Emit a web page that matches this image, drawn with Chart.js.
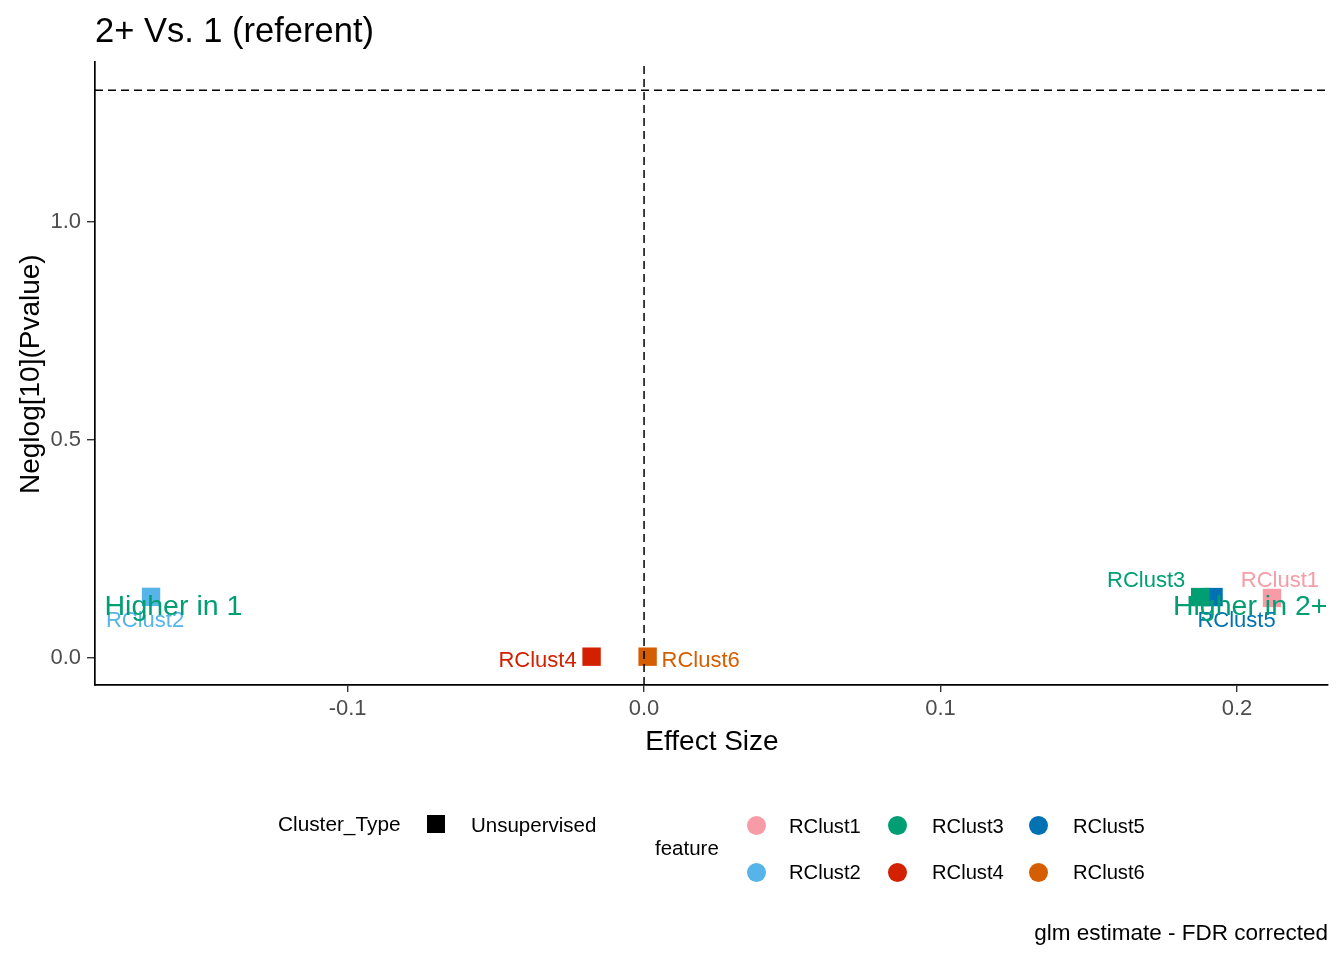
<!DOCTYPE html>
<html>
<head>
<meta charset="utf-8">
<title>2+ Vs. 1 (referent)</title>
<script src="https://cdn.jsdelivr.net/npm/chart.js@4.4.1/dist/chart.umd.min.js"></script>
<style>
  html, body { margin: 0; padding: 0; background: #fff; }
  #wrap {
    position: relative; width: 1344px; height: 960px; overflow: hidden;
    font-family: "Liberation Sans", Arial, sans-serif; color: #000;
  }
  #chart { position: absolute; left: 0; top: 0; }
  .txt { position: absolute; white-space: nowrap; line-height: 1; }
  .key { position: absolute; }
</style>
</head>
<body>
<div id="wrap"><canvas id="chart" width="1344" height="960"></canvas></div>
<script>
// ---- data ----
const features = ['RClust1', 'RClust2', 'RClust3', 'RClust4', 'RClust5', 'RClust6'];
const effectSize = [0.2118, -0.1663, 0.1876, -0.0177, 0.1921, 0.0012];
const neglogP = [0.138, 0.1404, 0.140, 0.0034, 0.140, 0.0034];
const featureColors = ['#F79CA6', '#56B4E9', '#009E73', '#D22000', '#0072B2', '#D55E00'];

const xTicks = [-0.1, 0.0, 0.1, 0.2];
const yTicks = [0.0, 0.5, 1.0];

// reference lines: no effect, and p = 0.05
const vLines = [0];
const hLines = [1.30103];

// side annotations
const noteTexts = ['Higher in 1', 'Higher in 2+'];
const noteX = [-0.182, 0.2305];
const noteY = [0.118, 0.118];

// ---- styling / layout constants ----
const FONT = '"Liberation Sans", Arial, sans-serif';
const noteAlign = ['left', 'right'];
const noteColor = '#009E73';
// label offsets from the point centre, px: [dx (text centre), dy (baseline)]
const labelOffsets = [[8, -11], [-6, 30], [-54, -10], [-54, 10], [23, 30], [53, 10]];

// ggplot-like 5% expansion around the data and reference lines
const xlo = Math.min(...effectSize, ...vLines), xhi = Math.max(...effectSize, ...vLines);
const ylo = Math.min(...neglogP, ...hLines), yhi = Math.max(...neglogP, ...hLines);
const xPad = (xhi - xlo) * 0.05, yPad = (yhi - ylo) * 0.05;

const overlayPlugin = {
  id: 'overlay',
  afterDatasetsDraw(chart) {
    const { ctx, chartArea: a, scales: { x, y } } = chart;
    ctx.save();
    // dashed reference lines
    ctx.strokeStyle = '#000';
    ctx.lineWidth = 1.5;
    ctx.setLineDash([8, 5]);
    vLines.forEach(v => {
      const px = x.getPixelForValue(v);
      ctx.beginPath(); ctx.moveTo(px, a.bottom); ctx.lineTo(px, a.top); ctx.stroke();
    });
    hLines.forEach(v => {
      const py = y.getPixelForValue(v);
      ctx.beginPath(); ctx.moveTo(a.left, py); ctx.lineTo(a.right, py); ctx.stroke();
    });
    ctx.setLineDash([]);

    // point labels
    ctx.font = '22px ' + FONT;
    ctx.textAlign = 'center';
    ctx.textBaseline = 'alphabetic';
    features.forEach((f, i) => {
      const px = x.getPixelForValue(effectSize[i]);
      const py = y.getPixelForValue(neglogP[i]);
      ctx.fillStyle = featureColors[i];
      ctx.fillText(f, px + labelOffsets[i][0], py + labelOffsets[i][1]);
    });

    // "Higher in ..." notes
    ctx.font = '28.5px ' + FONT;
    ctx.textBaseline = 'middle';
    ctx.fillStyle = noteColor;
    noteTexts.forEach((t, i) => {
      ctx.textAlign = noteAlign[i];
      ctx.fillText(t, x.getPixelForValue(noteX[i]), y.getPixelForValue(noteY[i]));
    });
    ctx.restore();
  }
};

new Chart(document.getElementById('chart'), {
  type: 'scatter',
  data: {
    datasets: features.map((f, i) => ({
      label: f,
      data: [{ x: effectSize[i], y: neglogP[i] }],
      backgroundColor: featureColors[i],
      borderWidth: 0,
      pointStyle: 'rect',
      pointRadius: 13,
      pointHoverRadius: 13
    }))
  },
  options: {
    responsive: false,
    animation: false,
    devicePixelRatio: 1,
    events: [],
    layout: { padding: { top: 62, right: 16, left: 0, bottom: 0 } },
    plugins: {
      legend: { display: false },
      title: { display: false },
      tooltip: { enabled: false }
    },
    scales: {
      x: {
        type: 'linear',
        min: xlo - xPad,
        max: xhi + xPad,
        afterFit(s) { s.height = 275; },
        afterBuildTicks(s) { s.ticks = xTicks.map(v => ({ value: v })); },
        ticks: {
          callback: v => v.toFixed(1),
          color: '#4D4D4D',
          font: { family: FONT, size: 22 },
          padding: 4,
          maxRotation: 0,
          autoSkip: false
        },
        grid: { drawOnChartArea: false, drawTicks: true, tickLength: 7, color: '#333333', lineWidth: 1.4 },
        border: { display: true, color: '#000', width: 1.7 }
      },
      y: {
        type: 'linear',
        min: ylo - yPad,
        max: yhi + yPad,
        afterFit(s) { s.width = 95; },
        afterBuildTicks(s) { s.ticks = yTicks.map(v => ({ value: v })); },
        ticks: {
          callback: v => v.toFixed(1),
          color: '#4D4D4D',
          font: { family: FONT, size: 22 },
          padding: 6,
          autoSkip: false
        },
        grid: { drawOnChartArea: false, drawTicks: true, tickLength: 8, color: '#333333', lineWidth: 1.4 },
        border: { display: true, color: '#000', width: 1.7 }
      }
    }
  },
  plugins: [overlayPlugin]
});

// ---- titles, legend and caption as HTML text ----
const wrap = document.getElementById('wrap');
function addText(str, x, baseline, size, align = 'left') {
  const el = document.createElement('div');
  el.className = 'txt';
  el.textContent = str;
  el.style.fontSize = size + 'px';
  el.style.top = (baseline - 0.8465 * size) + 'px';
  if (align === 'right') el.style.right = (1344 - x) + 'px';
  else if (align === 'center') { el.style.left = x + 'px'; el.style.transform = 'translateX(-50%)'; }
  else el.style.left = x + 'px';
  wrap.appendChild(el);
  return el;
}

addText('2+ Vs. 1 (referent)', 95, 42, 34.5);
addText('Effect Size', 712, 751, 28, 'center');

// rotated y title
const yTitle = addText('Neglog[10](Pvalue)', 0, 0, 28);
const yw = yTitle.offsetWidth;
yTitle.style.left = (40 - 0.8465 * 28) + 'px';
yTitle.style.top = (373.5 + yw / 2) + 'px';
yTitle.style.transformOrigin = 'left top';
yTitle.style.transform = 'rotate(-90deg)';

addText('glm estimate - FDR corrected', 1328, 941, 22.5, 'right');

// Cluster_Type legend
addText('Cluster_Type', 278, 832, 20.8);
const sq = document.createElement('div');
sq.className = 'key';
Object.assign(sq.style, { left: '427px', top: '815px', width: '18px', height: '18px', background: '#000' });
wrap.appendChild(sq);
addText('Unsupervised', 471, 832, 20.5);

// feature legend (two rows, filled by column)
addText('feature', 655, 855, 20.5);
const keyCols = [756, 897, 1038];
const keyRows = [825, 872];
const keyTextX = [789, 932, 1073];
const keyBase = [833, 879];
features.forEach((f, i) => {
  const c = Math.floor(i / 2), r = i % 2;
  const dot = document.createElement('div');
  dot.className = 'key';
  Object.assign(dot.style, {
    left: (keyCols[c] - 9.5) + 'px', top: (keyRows[r] - 9.5) + 'px',
    width: '19px', height: '19px', borderRadius: '50%', background: featureColors[i]
  });
  wrap.appendChild(dot);
  addText(f, keyTextX[c], keyBase[r], 20.2);
});
</script>
</body>
</html>
